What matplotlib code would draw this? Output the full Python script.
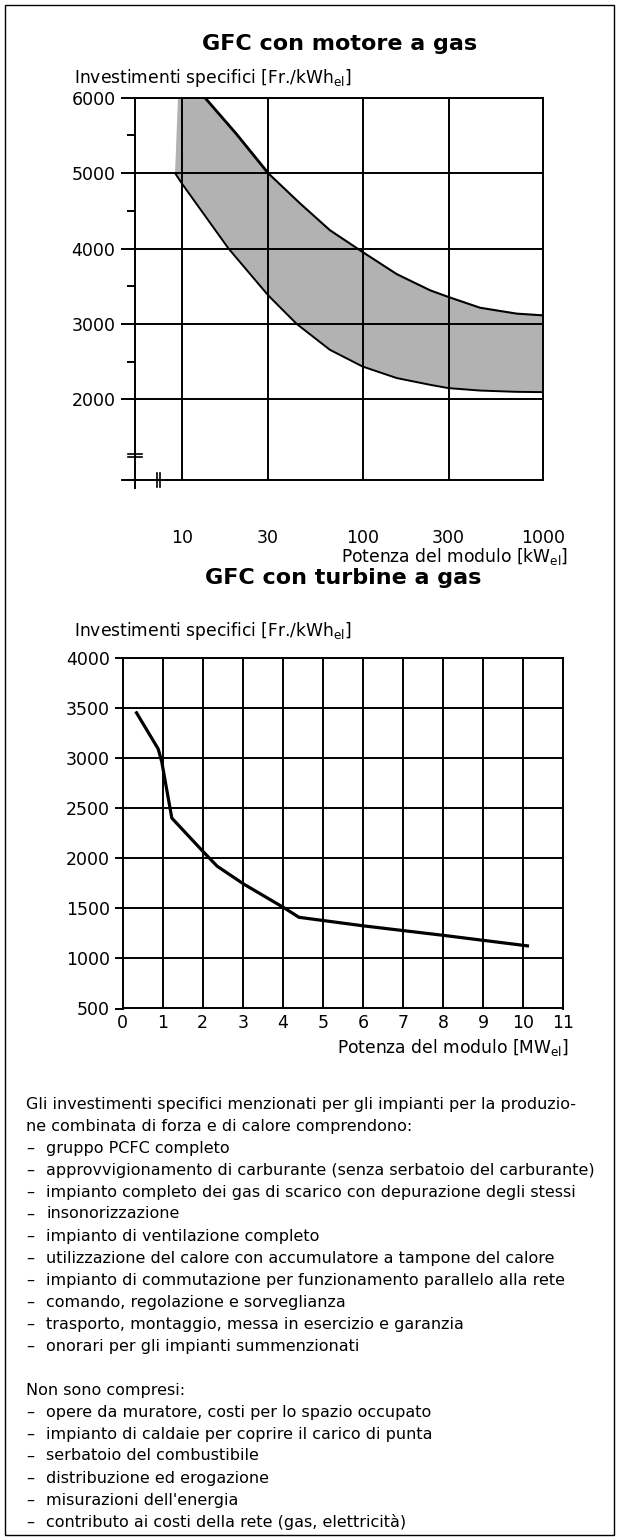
import matplotlib
matplotlib.use("Agg")
import matplotlib.pyplot as plt
from matplotlib.patches import Rectangle

# top chart: gas engine, band of specific investment vs module power (log x)
band_top_x = [9.5]
band_top_y = [6000]
upper_x = [13.4, 20, 30, 45, 66, 100, 155, 237, 300, 448, 714, 1000]
upper_y = [6000, 5520, 5000, 4600, 4243, 3955, 3660, 3446, 3357, 3215, 3137, 3114]
lower_x = [9.15, 10, 18.1, 30, 43.2, 66, 100, 155, 237, 300, 448, 714, 1000]
lower_y = [5000, 4860, 4000, 3380, 3000, 2657, 2436, 2282, 2193, 2149, 2117, 2100, 2096]
top_xticks = [10, 30, 100, 300, 1000]
top_xticklabels = ["10", "30", "100", "300", "1000"]
top_yticks = [2000, 3000, 4000, 5000, 6000]
top_yminor = [2500, 3500, 4500, 5500]

# bottom chart: gas turbine
turb_x = [0.35, 0.89, 0.98, 1.23, 2.0, 2.36, 3.03, 4.05, 4.4, 6.0, 8.0, 10.1]
turb_y = [3450, 3090, 2960, 2400, 2070, 1920, 1740, 1500, 1410, 1325, 1230, 1125]
bot_xticks = list(range(0, 12))
bot_yticks = [500, 1000, 1500, 2000, 2500, 3000, 3500, 4000]

included = [
    "gruppo PCFC completo",
    "approvvigionamento di carburante (senza serbatoio del carburante)",
    "impianto completo dei gas di scarico con depurazione degli stessi",
    "insonorizzazione",
    "impianto di ventilazione completo",
    "utilizzazione del calore con accumulatore a tampone del calore",
    "impianto di commutazione per funzionamento parallelo alla rete",
    "comando, regolazione e sorveglianza",
    "trasporto, montaggio, messa in esercizio e garanzia",
    "onorari per gli impianti summenzionati",
]
excluded = [
    "opere da muratore, costi per lo spazio occupato",
    "impianto di caldaie per coprire il carico di punta",
    "serbatoio del combustibile",
    "distribuzione ed erogazione",
    "misurazioni dell'energia",
    "contributo ai costi della rete (gas, elettricità)",
]

W, H = 620, 1540
fig = plt.figure(figsize=(6.2, 15.4), dpi=100)


def fx(px):
    return px / W


def fy(py):
    return 1 - py / H


fig.add_artist(Rectangle((fx(5), fy(1535)), fx(614) - fx(5), fy(5) - fy(1535),
                         fill=False, lw=1.0, color="k", transform=fig.transFigure))

LW = 1.4
TXT = 12.3
TICK = 12.5

# ---------------- top chart
ax1 = fig.add_axes([fx(135), fy(480), fx(543) - fx(135), fy(97.7) - fy(480)])
ax1.set_xscale("log")
ax1.set_xlim(5.49, 1000)
ax1.set_ylim(931, 6000)

poly_x = band_top_x + upper_x + lower_x[::-1]
poly_y = band_top_y + upper_y + lower_y[::-1]
ax1.fill(poly_x, poly_y, color="#b2b2b2", lw=0, zorder=1)
ax1.plot(upper_x[:3], upper_y[:3], color="k", lw=2.0, zorder=3)
ax1.plot(upper_x[2:], upper_y[2:], color="k", lw=1.5, zorder=3)
ax1.plot(lower_x, lower_y, color="k", lw=1.4, zorder=3)

ax1.set_xticks(top_xticks, labels=top_xticklabels)
ax1.set_xticks([], minor=True)
ax1.set_yticks(top_yticks)
ax1.set_yticks(top_yminor, minor=True)
ax1.set_yticklabels([str(v) for v in top_yticks])
ax1.set_axisbelow(False)
ax1.grid(True, which="major", color="k", lw=LW)
ax1.tick_params(axis="y", which="major", length=10, width=LW, pad=4, labelsize=TICK)
ax1.tick_params(axis="y", which="minor", length=6, width=LW)
ax1.tick_params(axis="x", which="major", length=0, pad=35, labelsize=TICK)
for s in ax1.spines.values():
    s.set_linewidth(LW)

# axis break marks and the little cross at the origin
kw = dict(transform=ax1.transAxes, clip_on=False, color="k", lw=1.2)
ax1.plot([-0.018, 0.018], [0.069, 0.069], **kw)
ax1.plot([-0.018, 0.018], [0.060, 0.060], **kw)
ax1.plot([0.054, 0.054], [-0.018, 0.018], **kw)
ax1.plot([0.062, 0.062], [-0.018, 0.018], **kw)
ax1.plot([-0.032, 0], [0, 0], transform=ax1.transAxes, clip_on=False, color="k", lw=LW)
ax1.plot([0, 0], [-0.022, 0], transform=ax1.transAxes, clip_on=False, color="k", lw=LW)

fig.text(fx(340), fy(44), "GFC con motore a gas", ha="center", va="center",
         fontsize=16, fontweight="bold")
fig.text(fx(74), fy(78), r"Investimenti specifici [Fr./kWh$_{\mathregular{el}}$]",
         ha="left", va="center", fontsize=TXT)
fig.text(fx(568), fy(557), r"Potenza del modulo [kW$_{\mathregular{el}}$]",
         ha="right", va="center", fontsize=TXT)

# ---------------- bottom chart
ax2 = fig.add_axes([fx(122.5), fy(1008.5), fx(563.5) - fx(122.5), fy(657.7) - fy(1008.5)])
ax2.set_xlim(0, 11)
ax2.set_ylim(500, 4000)
ax2.plot(turb_x, turb_y, color="k", lw=2.3, zorder=3)
ax2.set_xticks(bot_xticks)
ax2.set_yticks(bot_yticks)
ax2.set_axisbelow(False)
ax2.grid(True, color="k", lw=LW)
ax2.tick_params(axis="y", length=6, width=LW, pad=3, labelsize=TICK)
ax2.tick_params(axis="x", length=0, pad=4, labelsize=TICK)
for s in ax2.spines.values():
    s.set_linewidth(LW)

fig.text(fx(343), fy(578), "GFC con turbine a gas", ha="center", va="center",
         fontsize=16, fontweight="bold")
fig.text(fx(74), fy(631), r"Investimenti specifici [Fr./kWh$_{\mathregular{el}}$]",
         ha="left", va="center", fontsize=TXT)
fig.text(fx(569), fy(1048), r"Potenza del modulo [MW$_{\mathregular{el}}$]",
         ha="right", va="center", fontsize=TXT)

# ---------------- notes
lines = ["Gli investimenti specifici menzionati per gli impianti per la produzio-",
         "ne combinata di forza e di calore comprendono:"]
lines += ["–\t" + t for t in included]
lines += ["", "Non sono compresi:"]
lines += ["–\t" + t for t in excluded]

y0, dy = 1104, 22
for i, t in enumerate(lines):
    y = fy(y0 + i * dy)
    if t.startswith("–\t"):
        fig.text(fx(26), y, "–", ha="left", va="center", fontsize=11.5)
        fig.text(fx(46), y, t[2:], ha="left", va="center", fontsize=11.5)
    elif t:
        fig.text(fx(26), y, t, ha="left", va="center", fontsize=11.5)

fig.savefig("out.png", dpi=100)
